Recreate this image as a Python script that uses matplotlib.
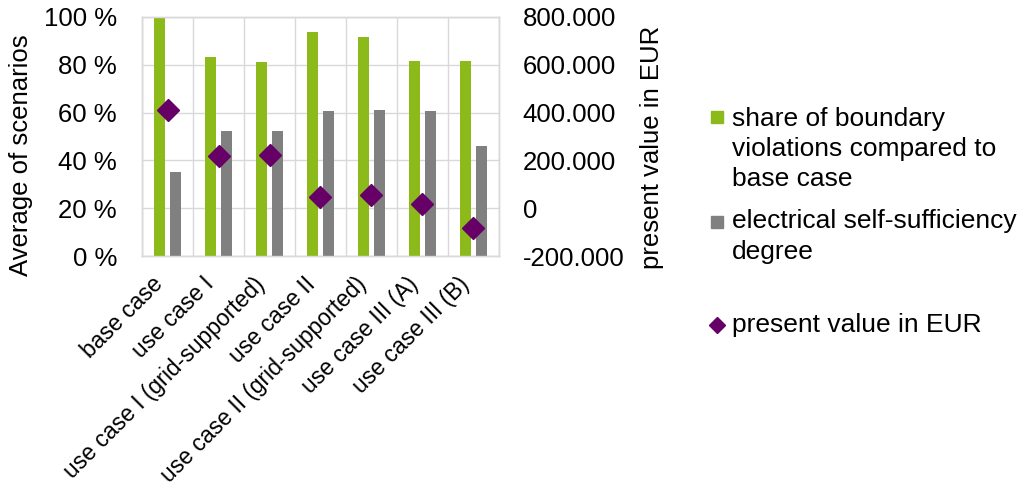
import matplotlib
matplotlib.use("Agg")
import matplotlib.pyplot as plt
import matplotlib.transforms as mtransforms
import numpy as np
from matplotlib.ticker import FuncFormatter, FixedLocator
from matplotlib.lines import Line2D
from matplotlib.patches import Rectangle

plt.rcParams['font.family'] = ['Liberation Sans', 'DejaVu Sans']

categories = ["base case", "use case I", "use case I (grid-supported)", "use case II",
              "use case II (grid-supported)", "use case III (A)", "use case III (B)"]
boundary_violations = [100.0, 83.1, 81.0, 93.6, 91.6, 81.4, 81.4]   # %
self_sufficiency = [35.0, 52.2, 52.2, 60.8, 60.9, 60.8, 46.0]       # %
present_value = [410000, 218000, 223000, 48000, 54000, 18000, -82000]  # EUR

legend_labels = ["share of boundary\nviolations compared to\nbase case",
                 "electrical self-sufficiency\ndegree",
                 "present value in EUR"]

GREEN = "#8CBA1A"
GRAY = "#808080"
PURPLE = "#660066"
GRID = "#D9D9D9"
TICK_FS = 18.5
CAT_FS = 16.5
LABEL_FS = 19
AXLABEL_FS = 18.5

W, H = 1019, 494
fig = plt.figure(figsize=(W / 100, H / 100), dpi=100)
ax = fig.add_axes([142 / W, 1 - 256 / H, (499 - 142) / W, (256 - 17) / H])
ax2 = ax.twinx()

x = np.arange(len(categories))
bw = 0.22
off = 0.157
ax.bar(x - off, boundary_violations, width=bw, color=GREEN, zorder=3)
ax.bar(x + off, self_sufficiency, width=bw, color=GRAY, zorder=3)
ax2.plot(x, present_value, linestyle="none", marker="D", markersize=11,
         color=PURPLE, zorder=5)

ax.set_xlim(-0.5, len(categories) - 0.5)
ax.set_ylim(0, 100)
ax.set_yticks(np.arange(0, 101, 20))
ax.yaxis.set_major_formatter(FuncFormatter(lambda v, p: f"{v:.0f} %"))
ax2.set_ylim(-200000, 800000)
ax2.set_yticks(np.arange(-200000, 800001, 200000))
ax2.yaxis.set_major_formatter(
    FuncFormatter(lambda v, p: f"{v:,.0f}".replace(",", ".")))

# horizontal gridlines plus vertical separators between categories
ax.grid(axis="y", color=GRID, linewidth=1.0, zorder=0)
ax.xaxis.set_minor_locator(FixedLocator(np.arange(-0.5, len(categories), 1.0)))
ax.grid(axis="x", which="minor", color=GRID, linewidth=1.0, zorder=0)
ax.set_xticks(x)
ax.set_xticklabels(categories, rotation=45, ha="right", fontsize=CAT_FS)
shift = mtransforms.ScaledTranslation(9 / 100, 0, fig.dpi_scale_trans)
for lbl in ax.get_xticklabels():
    lbl.set_transform(lbl.get_transform() + shift)
ax.tick_params(axis="x", which="both", length=0, pad=12)
ax.tick_params(axis="y", length=0, pad=18, labelsize=TICK_FS)
ax2.tick_params(axis="y", length=0, pad=17, labelsize=TICK_FS)

for a in (ax, ax2):
    for s in a.spines.values():
        s.set_color(GRID)
        s.set_linewidth(1.0)

ax.set_ylabel("Average of scenarios", fontsize=AXLABEL_FS)
ax.yaxis.set_label_coords(-0.305, 0.42)
ax2.set_ylabel("present value in EUR", fontsize=AXLABEL_FS)
ax2.yaxis.set_label_coords(1.395, 0.456)

# legend beside the plot, marker aligned with the first label line
def fx(px):
    return px / W

def fy(py):
    return 1 - py / H

sq = 12.5
fig.patches.append(Rectangle((fx(717 - sq / 2), fy(117 + sq / 2)), sq / W, sq / H,
                             transform=fig.transFigure, color=GREEN))
fig.patches.append(Rectangle((fx(717 - sq / 2), fy(222 + sq / 2)), sq / W, sq / H,
                             transform=fig.transFigure, color=GRAY))
fig.lines.append(Line2D([fx(717)], [fy(325)], transform=fig.transFigure,
                        marker="D", markersize=8, color=PURPLE, linestyle="none"))

baselines = [[126, 156, 186], [228, 259], [332]]
for label, rows in zip(legend_labels, baselines):
    for line, yb in zip(label.split("\n"), rows):
        fig.text(fx(732), fy(yb), line, fontsize=LABEL_FS, va="baseline")

fig.savefig("out.png", dpi=100)
